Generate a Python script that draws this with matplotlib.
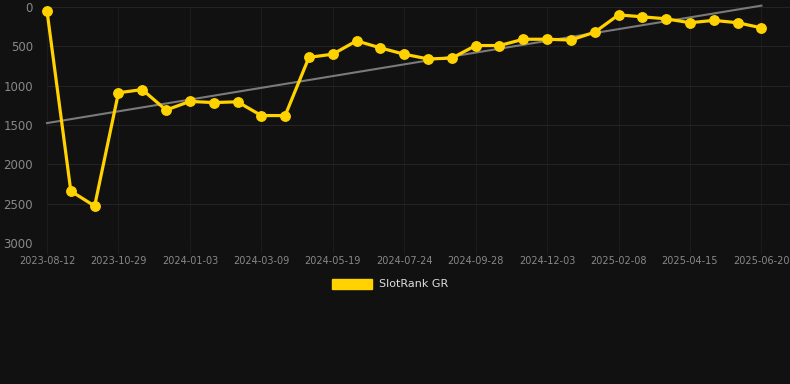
import numpy as np
import matplotlib
matplotlib.use("Agg")
import matplotlib.pyplot as plt
from matplotlib.patches import Patch

# Rank values (lower is better, axis inverted)
ranks = [50, 2340, 2530, 1090, 1050, 1310, 1200, 1215, 1205, 1380, 1380,
         640, 600, 430, 520, 600, 660, 650, 490, 490, 410,
         410, 420, 320, 100, 125, 150, 200, 170, 200, 265]
tick_labels = ["2023-08-12", "2023-10-29", "2024-01-03", "2024-03-09",
               "2024-05-19", "2024-07-24", "2024-09-28", "2024-12-03",
               "2025-02-08", "2025-04-15", "2025-06-20"]
series_name = "SlotRank GR"

bg = "#111111"
gold = "#FFD200"

fig = plt.figure(figsize=(7.9, 3.84), dpi=100, facecolor=bg)
ax = fig.add_axes([47 / 790, 1 - 243 / 384, 743 / 790, 236 / 384], facecolor=bg)

x = np.arange(len(ranks))

# linear trend line
slope, intercept = np.polyfit(x, ranks, 1)
ax.plot(x, slope * x + intercept, color="#7a7a7a", linewidth=1.5, zorder=2,
        clip_on=False)

ax.plot(x, ranks, color=gold, linewidth=2.3, marker="o", markersize=6.8,
        zorder=3, clip_on=False)

ax.set_xlim(0, 31.2)
ax.set_ylim(3000, 0)
ax.set_yticks(range(0, 3001, 500))
ax.set_xticks(x[::3])
ax.set_xticklabels(tick_labels)

ax.grid(True, axis="y", color="#232323", linewidth=0.75)
ax.grid(True, axis="x", color="#1c1c1c", linewidth=0.75)
ax.set_axisbelow(True)
for s in ax.spines.values():
    s.set_visible(False)
ax.tick_params(axis="x", colors="#1c1c1c", length=8, width=0.75,
               labelcolor="#888888", labelsize=7, pad=1)
ax.tick_params(axis="y", length=0, labelcolor="#888888", labelsize=8.5, pad=10)

fig.legend(handles=[Patch(facecolor=gold, edgecolor=gold, label=series_name)],
           loc="center", bbox_to_anchor=(390 / 790, 1 - 284 / 384),
           frameon=False, fontsize=8, labelcolor="#dddddd",
           handlelength=3.6, handleheight=1.0, handletextpad=0.6)

fig.savefig("out.png", dpi=100, facecolor=bg)
